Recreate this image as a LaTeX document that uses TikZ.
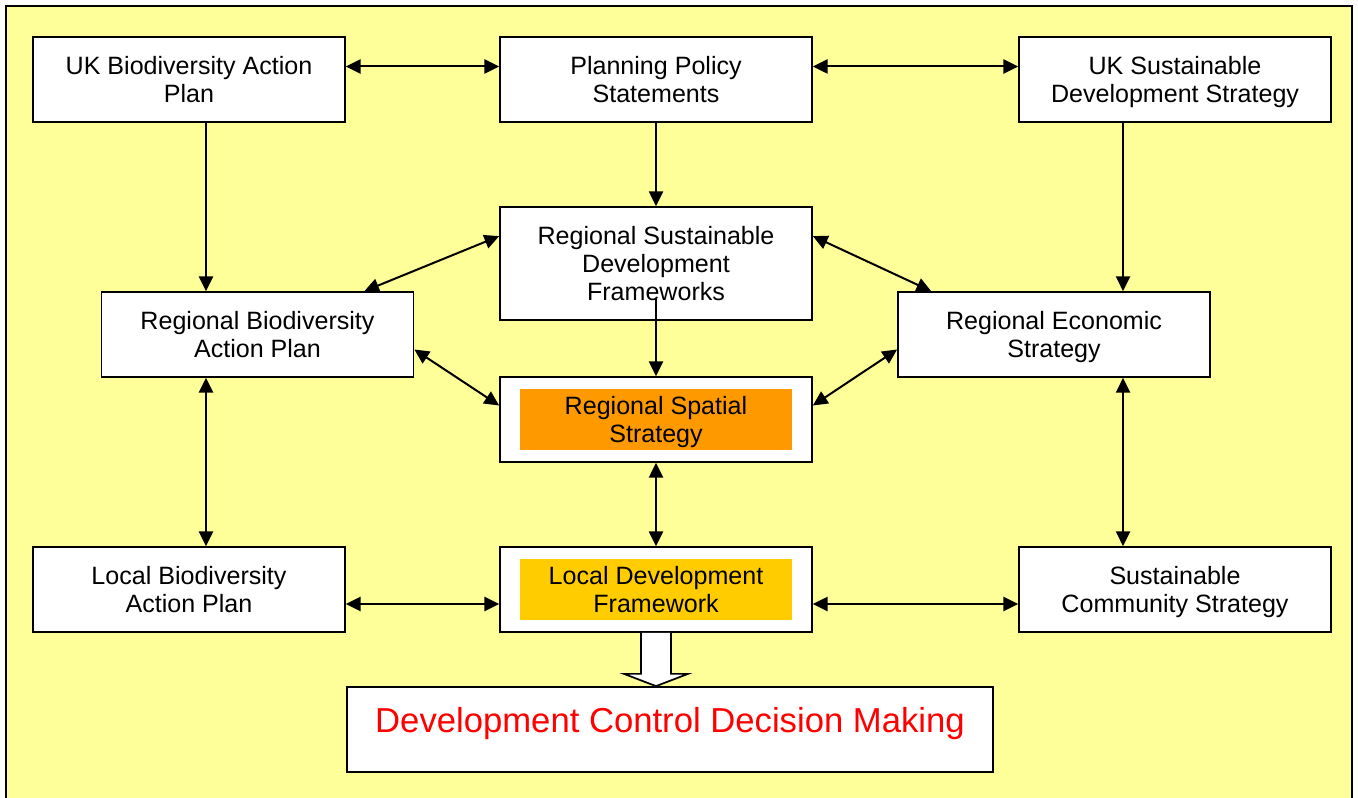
\documentclass[tikz,border=0pt]{standalone}
\usepackage{fontspec}
\setmainfont{Liberation Sans}
\usetikzlibrary{arrows.meta,calc}
\definecolor{bgyellow}{HTML}{FFFF99}
\definecolor{rssorange}{HTML}{FF9900}
\definecolor{ldfgold}{HTML}{FFCC00}

\begin{document}
\begin{tikzpicture}[x=0.75pt,y=-0.75pt,>={Triangle[length=11pt,width=10.5pt]},line width=1.5pt,
    plan/.style={draw,fill=white,line width=1.3pt,minimum width=234pt,minimum height=63.75pt,inner sep=2pt,align=center,text depth=-3pt,font=\fontsize{18.8}{21}\selectfont},
    inner box/.style={fill=#1,minimum width=204pt,minimum height=45.75pt,inner sep=1pt,align=center,text depth=-3pt,font=\fontsize{18.8}{21}\selectfont}]

            \useasboundingbox (0,0) rectangle (1358,798);
            \clip (0,0) rectangle (1358,798);
            \draw[fill=bgyellow,line width=1.5pt] (6,6) rectangle (1352,830);

            \node[plan]  (ukbap) at (189,79.5) {UK Biodiversity Action\\Plan};
            \node[plan]  (pps) at (656,79.5) {Planning Policy\\Statements};
            \node[plan]  (uksds) at (1175,79.5) {UK Sustainable\\Development Strategy};
            \node[plan,minimum height=84.75pt]  (rsdf) at (656,263.5) {Regional Sustainable\\Development\\Frameworks};
            \node[plan]  (rbap) at (257.5,334.5) {Regional Biodiversity\\Action Plan};
            \node[plan]  (res) at (1054,334.5) {Regional Economic\\Strategy};
            \node[plan]  (rss) at (656,419.5) {};
            \node[inner box=rssorange]  (rsstext) at (rss.center) {Regional Spatial\\Strategy};
            \node[plan]  (lbap) at (189,589.5) {Local Biodiversity\\Action Plan};
            \node[plan]  (ldf) at (656,589.5) {};
            \node[inner box=ldfgold]  (ldftext) at (ldf.center) {Local Development\\Framework};
            \node[plan]  (scs) at (1175,589.5) {Sustainable\\Community Strategy};
            \node[plan,minimum width=484.5pt,text depth=14pt,font=\fontsize{26}{30}\selectfont,text=red]  (dcdm) at (670,729.5) {Development Control Decision Making};

            \coordinate (bcol) at ($(ukbap.south)+(17,0)$);
            \coordinate (scol) at ($(uksds.south)+(-52,0)$);

            % top row
            \draw[<->] ($(ukbap.east)+(0,-13)$) -- ($(pps.west)+(0,-13)$);
            \draw[<->] ($(pps.east)+(0,-13)$) -- ($(uksds.west)+(0,-13)$);
            \draw[->] (bcol) -- (bcol |- rbap.north);
            \draw[->] (pps.south) -- (rsdf.north);
            \draw[->] (scol) -- (scol |- res.north);

            % middle
            \draw[<->] ($(rsdf.north west)+(0,30)$) -- ($(rbap.north east)+(-50,0)$);
            \draw[<->] ($(rsdf.north east)+(0,30)$) -- ($(res.north west)+(34,0)$);
            \draw[->] ($(rsdf.south)+(0,-22)$) -- (rss.north);
            \draw[<->] ($(rbap.east)+(0,15)$) -- ($(rss.west)+(0,-14)$);
            \draw[<->] ($(res.west)+(0,15)$) -- ($(rss.east)+(0,-14)$);

            % bottom row
            \draw[<->] (bcol |- rbap.south) -- (bcol |- lbap.north);
            \draw[<->] (rss.south) -- (ldf.north);
            \draw[<->] (scol |- res.south) -- (scol |- scs.north);
            \draw[<->] ($(lbap.east)+(0,14.5)$) -- ($(ldf.west)+(0,14.5)$);
            \draw[<->] ($(ldf.east)+(0,14.5)$) -- ($(scs.west)+(0,14.5)$);

            \draw[fill=white,line width=1.3pt] ($(ldf.south)+(-15,0)$) -- ++(0,41) -- ++(-17,0)
                -- (ldf.south |- dcdm.north) -- ($(ldf.south)+(32,41)$) -- ++(-17,0) -- ($(ldf.south)+(15,0)$);
        \end{tikzpicture}
\end{document}
